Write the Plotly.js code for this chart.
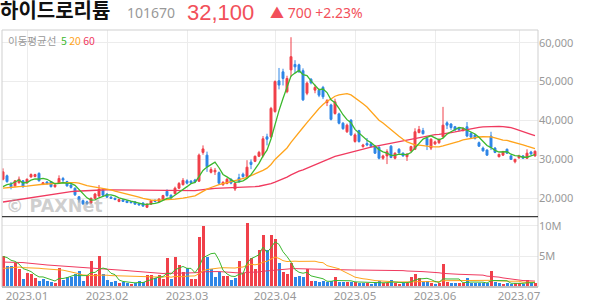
<!DOCTYPE html>
<html><head><meta charset="utf-8">
<script src="https://cdn.plot.ly/plotly-3.0.1.min.js"></script>
<style>html,body{margin:0;padding:0;background:#fff}#chart{width:594px;height:304px}</style>
</head><body><div id="chart"></div>
<script>
// ---- data (KRW, shares) ----
const monthTickIdx = [6, 26, 46, 68, 88, 108, 129];
const monthLabels = ['2023.01','2023.02','2023.03','2023.04','2023.05','2023.06','2023.07'];
const priceTicks = [20000, 30000, 40000, 50000, 60000];
const volTicks = [5000000, 10000000];
const volTickText = ['5M', '10M'];

// estimated closes / volumes before the visible window (feed the moving averages)
const priorClose = [14200,14400,14100,14500,14800,14600,14900,15200,15000,14700,14900,15100,14800,15000,15300,15100,14900,15200,15400,15100,15000,
  16200,17500,18800,19500,20300,21000,20500,19800,20600,21200,20400,19900,20200,20800,20300,19700,20100,20500,21000,
  21500,22300,22800,23400,22900,22400,22700,23100,22600,22200,22500,22800,22300,21900,22500,21800,22100,22300,22000];
const priorVolM = [3.2,4.1,5.6,3.8,2.9,6.5,4.4,3.6,5.2,7.8,4.9,3.3,4.0,5.5,3.9,2.8,4.6,6.1,4.2,3.5,5.0,4.3,3.7,6.8,4.5,3.9,5.3,4.1,3.4,4.8,5.9,4.0,3.6,4.7,5.1,3.8,4.4,5.6,3.9,4.3,
  2.1,2.6,1.9,2.4,3.1,2.2,1.8,2.5,2.0,2.7,2.3,1.9,2.6,2.4,2.0,4.2,5.6,4.8,5.0];

const open = [24900,25800,23600,23200,24000,24500,24000,25500,25600,26400,
  23600,24200,24300,23000,23900,25100,24300,23400,22600,20400,
  19400,19100,18800,20000,20600,22100,21100,20300,20000,19200,
  19600,19300,19100,19100,18600,18800,17700,18500,19500,19200,
  19700,21800,20800,21200,22600,23500,24500,24400,24700,24400,
  31800,31100,26700,26800,26600,23500,23800,24900,22400,25300,
  26200,25600,29300,29500,30800,31000,35800,35800,42300,50200,
  52500,47400,53000,54400,54300,52800,47000,50600,47800,47800,
  48500,44600,44000,41800,41700,39300,37100,40100,34600,37400,
  33300,34100,34000,33400,33100,30300,30900,33400,30300,32600,
  31600,30700,32200,32600,36900,37400,35400,32900,34000,34300,
  35800,39400,39100,38400,38100,37400,38400,36700,36300,34300,
  32900,32400,36000,32900,30700,31100,32600,30900,29400,30400,
  30900,30300,31900,30900];
const high = [27700,26100,24200,24700,25600,24700,25100,26400,26300,26700,
  24200,24400,24400,23600,25900,25500,24500,23700,22800,20600,
  19700,19400,20200,21400,23400,22600,21300,20500,20200,19900,
  19800,19500,19300,19200,18800,19000,18700,19500,19700,20000,
  20900,22300,21000,23000,24200,25200,24900,24700,25000,31500,
  33600,32000,28000,27800,26900,24400,25200,25100,23900,26300,
  26600,29800,30000,31000,32200,36000,36600,43500,50300,53500,
  53300,51500,61400,55500,54600,53400,50000,50900,49200,48200,
  48900,45500,44300,45600,42000,39600,39200,40300,36700,37600,
  34000,35500,34300,33700,33400,31200,32600,33700,31800,32900,
  31800,31500,33500,38000,38600,38100,35700,35400,34800,35300,
  43500,39800,39300,38600,38300,38200,39600,37000,36500,34600,
  33300,32600,37100,33200,31500,32200,32800,31100,30200,31200,
  31100,32600,32200,32300];
const low = [24600,24000,22300,23000,23800,22700,23700,25300,25400,24300,
  23400,23500,22800,22700,23700,24200,23000,22500,20600,18900,
  18300,18200,18600,19800,20400,20500,20200,19900,19500,19000,
  19100,18800,18700,18400,18200,17800,17500,18300,19000,19000,
  19500,20400,19900,21000,22400,23300,23600,23700,23900,24200,
  31200,26800,26400,26000,23600,23200,23600,23600,21900,24000,
  25300,25400,27500,29300,30600,30500,33600,35500,42000,48000,
  49000,47000,51200,52200,52300,45000,46500,49300,47000,46000,
  45500,43700,40000,41500,39000,37600,36800,36000,34300,34300,
  33000,33400,33100,31400,30000,29900,28800,30300,30000,31500,
  30700,29600,32000,32400,36700,36400,32400,32400,33700,34000,
  35600,37800,37600,37300,37300,37200,35700,35400,35100,33200,
  32000,30900,32400,31600,30500,30900,31400,29900,29000,30200,
  30100,30100,31200,30700];
const close = [26800,24300,23000,24500,24900,23000,24900,26100,26100,24500,
  24000,23800,23000,23400,25100,24700,23200,22800,20900,19600,
  18600,18700,20000,21100,22300,20800,20300,20000,19700,19700,
  19200,18900,18900,18500,18300,18000,18500,19400,19200,19800,
  20700,20700,20100,22600,23800,24600,23900,24000,24200,31100,
  32700,28100,27400,27200,23900,24100,24900,23900,23800,24300,
  25600,28000,28700,30800,31800,35300,35200,43100,50000,49100,
  50800,50800,56400,53800,52500,45300,49600,49700,48500,46500,
  46100,45100,40300,44800,39300,37900,38800,36300,36300,34600,
  33700,33700,33300,31600,30300,30900,32000,30500,31600,31700,
  30900,31400,33300,37100,37700,36600,33700,35200,34500,35200,
  38800,38800,38200,37600,37600,38000,36000,35700,35400,33400,
  32200,31100,33100,31800,31300,32000,31600,30000,30000,30900,
  30300,31600,31400,32100];
const volumeM = [5.0,3.35,3.35,3.9,2.8,1.2,2.25,2.0,1.4,0.9,
  1.2,0.9,0.75,0.6,3.1,1.1,1.6,1.6,2.0,2.5,
  0.9,1.85,4.2,2.0,5.0,2.0,1.0,0.75,0.9,0.6,
  0.75,0.6,0.4,0.5,0.85,0.75,1.85,1.85,1.3,1.85,
  1.2,4.6,1.2,4.8,3.5,2.3,3.0,1.2,1.2,8.2,
  9.95,4.8,2.8,1.6,2.4,1.7,1.7,1.0,1.3,4.2,
  2.2,10.5,4.6,2.8,6.0,8.5,6.0,8.5,7.75,3.9,
  2.4,2.0,3.9,1.6,1.7,1.6,2.8,0.9,0.9,0.75,
  0.9,0.75,0.8,1.6,0.75,0.75,0.7,0.75,0.7,0.6,
  0.5,0.5,0.45,0.6,0.85,0.5,0.6,1.0,0.5,0.45,
  0.5,0.6,1.6,2.0,1.4,0.7,0.9,0.6,0.4,0.6,
  3.7,0.75,0.6,0.5,0.5,0.6,1.3,0.6,0.5,0.5,
  0.5,0.6,2.5,0.7,0.5,0.4,0.5,0.4,0.6,0.5,
  0.4,1.0,0.5,0.6];

// ---- styles ----
const UP = '#f0404a', DOWN = '#2f86e6';
const C5 = '#3cb82e', C20 = '#ffa41c', C60 = '#f03a5f';
const FONT = "'Noto Sans', 'Noto Sans CJK KR', sans-serif";
const KFONT = "'Noto Sans CJK KR', 'Noto Sans', sans-serif";
const TFONT = "'Liberation Sans', 'Noto Sans CJK KR', sans-serif";

const N = close.length;
const idx = close.map((_, i) => i);
const volume = volumeM.map(v => v * 1e6);
const allClose = priorClose.concat(close);
const allVol = priorVolM.map(v => v * 1e6).concat(volume);
const P = priorClose.length;
function ma(arr, n) {
  const out = [];
  for (let i = 0; i < N; i++) {
    const end = P + i; let s = 0;
    for (let k = end - n + 1; k <= end; k++) s += arr[k];
    out.push(s / n);
  }
  return out;
}
const volColors = close.map((c, i) => (c >= (i === 0 ? priorClose[P - 1] : close[i - 1])) ? UP : DOWN);

const traces = [
  {type: 'candlestick', x: idx, open: open, high: high, low: low, close: close, xaxis: 'x', yaxis: 'y',
   increasing: {line: {color: UP, width: 1}, fillcolor: UP},
   decreasing: {line: {color: DOWN, width: 1}, fillcolor: DOWN}, whiskerwidth: 0, hoverinfo: 'skip'},
  {type: 'scatter', mode: 'lines', x: idx, y: ma(allClose, 60), line: {color: C60, width: 1.3}, yaxis: 'y'},
  {type: 'scatter', mode: 'lines', x: idx, y: ma(allClose, 20), line: {color: C20, width: 1.3}, yaxis: 'y'},
  {type: 'scatter', mode: 'lines', x: idx, y: ma(allClose, 5), line: {color: C5, width: 1.3}, yaxis: 'y'},
  {type: 'bar', x: idx, y: volume, marker: {color: volColors, line: {width: 0}}, width: 0.75, yaxis: 'y2'},
  {type: 'scatter', mode: 'lines', x: idx, y: ma(allVol, 60), line: {color: C60, width: 1}, yaxis: 'y2'},
  {type: 'scatter', mode: 'lines', x: idx, y: ma(allVol, 20), line: {color: C20, width: 1}, yaxis: 'y2'},
  {type: 'scatter', mode: 'lines', x: idx, y: ma(allVol, 5), line: {color: C5, width: 1}, yaxis: 'y2'}
];

const SPLIT = 0.2735;
const px = X => (X - 2) / 536;      // page x -> paper x
const py = Y => (287 - Y) / 257;    // page y -> paper y

const layout = {
  width: 594, height: 304,
  margin: {l: 2, r: 56, t: 30, b: 17, pad: 0},
  paper_bgcolor: '#ffffff', plot_bgcolor: '#ffffff',
  showlegend: false, bargap: 0,
  font: {family: FONT, color: '#999'},
  xaxis: {range: [-0.25, 133.75], tickmode: 'array', tickvals: monthTickIdx, ticktext: monthLabels,
    showgrid: true, gridcolor: '#ececec', gridwidth: 1, zeroline: false, showline: false,
    rangeslider: {visible: false}, ticks: '', tickfont: {size: 11.5, color: '#999', family: FONT}, anchor: 'y2', fixedrange: true},
  yaxis: {domain: [SPLIT, 1], range: [15274, 63256], side: 'right', tickmode: 'array', tickvals: priceTicks,
    tickformat: ',d', showgrid: true, gridcolor: '#ececec', zeroline: false, showline: false, ticks: '',
    tickfont: {size: 11, color: '#999', family: FONT}, fixedrange: true},
  yaxis2: {domain: [0, SPLIT], range: [-115000, 11490000], side: 'right', tickmode: 'array', tickvals: volTicks,
    ticktext: volTickText, showgrid: true, gridcolor: '#ececec', zeroline: false, showline: false, ticks: '',
    tickfont: {size: 11, color: '#999', family: FONT}, fixedrange: true},
  shapes: [
    {type: 'rect', xref: 'paper', yref: 'paper', x0: 0, x1: 1, y0: 0, y1: 1, line: {color: '#cfcfcf', width: 1}},
    {type: 'line', xref: 'paper', yref: 'paper', x0: 0, x1: 1, y0: 0, y1: 0, line: {color: '#9a9a9a', width: 1}},
    {type: 'line', xref: 'paper', yref: 'paper', x0: 0, x1: 1, y0: SPLIT, y1: SPLIT, line: {color: '#3c3c3c', width: 1.3}}
  ],
  annotations: [
    {xref: 'paper', yref: 'paper', x: px(0), y: py(0.5), xanchor: 'left', yanchor: 'top', showarrow: false,
     borderpad: 0, borderwidth: 0,
     text: '<b>하이드로리튬</b>', font: {family: TFONT, size: 20, color: '#111'}},
    {xref: 'paper', yref: 'paper', x: px(125), y: py(12), xanchor: 'left', yanchor: 'middle', showarrow: false,
     text: '101670', font: {family: FONT, size: 14, color: '#999'}},
    {xref: 'paper', yref: 'paper', x: px(187), y: py(0.5), xanchor: 'left', yanchor: 'top', showarrow: false,
     borderpad: 0, borderwidth: 0,
     text: '32,100', font: {family: "'Liberation Sans', sans-serif", size: 22, color: '#f2505a'}},
    {xref: 'paper', yref: 'paper', x: px(268), y: py(12), xanchor: 'left', yanchor: 'middle', showarrow: false,
     text: '▲ 700 +2.23%', font: {family: FONT, size: 14, color: '#f2505a'}},
    {xref: 'paper', yref: 'paper', x: px(6), y: py(41), xanchor: 'left', yanchor: 'middle', showarrow: false,
     text: '이동평균선  <span style="color:' + C5 + '">5</span> <span style="color:' + C20 + '">20</span> <span style="color:' + C60 + '">60</span>',
     font: {family: KFONT, size: 10.5, color: '#999'}},
    {xref: 'paper', yref: 'paper', x: px(4), y: py(206), xanchor: 'left', yanchor: 'middle', showarrow: false,
     text: '<b>© PAXNet</b>', font: {family: "'DejaVu Sans', sans-serif", size: 17.5, color: 'rgba(165,165,165,0.55)'}}
  ]
};

Plotly.newPlot('chart', traces, layout, {staticPlot: true, displayModeBar: false});
</script>
</body></html>
